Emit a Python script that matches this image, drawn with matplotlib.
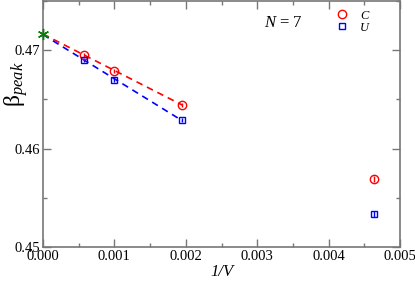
import numpy as np
import matplotlib
matplotlib.use("Agg")
import matplotlib.pyplot as plt
from matplotlib.ticker import MultipleLocator
from matplotlib.lines import Line2D

plt.rcParams['font.family'] = ['Liberation Serif', 'DejaVu Serif']
plt.rcParams['mathtext.fontset'] = 'custom'
plt.rcParams['mathtext.rm'] = 'Liberation Serif'
plt.rcParams['mathtext.it'] = 'Liberation Serif:italic'

# data
inv_v = [1 / 1728, 1 / 1000, 1 / 512, 1 / 216]
beta_c = [0.46956, 0.4679, 0.46442, 0.4569]
err_c = [0.0002, 0.0002, 0.0002, 0.0003]
beta_u = [0.4690, 0.4670, 0.46287, 0.45335]
err_u = [0.0002, 0.0002, 0.0002, 0.0003]
star_x = [0.0]
star_y = [0.47162]

fig = plt.figure(figsize=(4.15, 2.81), dpi=100)
ax = fig.add_axes([0.1036, 0.121, 0.8603, 0.8754])

# linear fits through the three largest volumes
xs = np.array([0.0, inv_v[2]])
for beta, col in [(beta_c, 'red'), (beta_u, 'blue')]:
    pts_x = np.array(star_x + inv_v[:3])
    pts_y = np.array(star_y + beta[:3])
    k, b = np.polyfit(pts_x, pts_y, 1)
    ax.plot(xs, k * xs + b, color=col, ls=(0, (4, 3)), lw=1.2)

ax.errorbar(inv_v, beta_c, yerr=err_c, fmt='o', mfc='none', mec='red', ecolor='red',
            ms=6, mew=1.0, elinewidth=1.0, capsize=0)
ax.errorbar(inv_v, beta_u, yerr=err_u, fmt='s', mfc='none', mec='blue', ecolor='blue',
            ms=5, mew=1.0, elinewidth=1.0, capsize=0)
ax.plot(star_x, star_y, marker=(6, 2, 0), color='green', ms=8, mew=1.0, ls='none',
        clip_on=False, zorder=5)

ax.set_xlim(0, 0.005)
ax.set_ylim(0.45, 0.475)
ax.xaxis.set_major_locator(MultipleLocator(0.001))
ax.xaxis.set_minor_locator(MultipleLocator(0.0005))
ax.yaxis.set_major_locator(MultipleLocator(0.01))
ax.yaxis.set_minor_locator(MultipleLocator(0.005))
ax.xaxis.set_major_formatter(matplotlib.ticker.FormatStrFormatter('%.3f'))
ax.yaxis.set_major_formatter(matplotlib.ticker.FormatStrFormatter('%.2f'))
ax.tick_params(which='both', direction='in', top=True, right=True, color='#777777',
               labelsize=10.5, pad=2)
ax.tick_params(which='major', length=6, width=1)
ax.tick_params(which='minor', length=3, width=1)
for s in ax.spines.values():
    s.set_color('#777777')
    s.set_linewidth(1.2)

ax.set_xlabel('1/V', fontsize=12, style='italic', labelpad=1)
fig.text(16 / 415, 1 - 84 / 281, r'$\mathrm{\beta}_{peak}$', fontsize=17,
         rotation=90, ha='center', va='center')

ax.text(0.00309, 0.4728, r'$N$ = 7', fontsize=12, va='center')
handles = [Line2D([], [], marker='o', mfc='none', mec='red', ms=6, mew=1.0, ls='none'),
           Line2D([], [], marker='s', mfc='none', mec='blue', ms=5, mew=1.0, ls='none')]
ax.legend(handles, ['C', 'U'], loc='upper left', bbox_to_anchor=(0.8, 1.0),
          frameon=False, handlelength=0.8, handletextpad=1.0, labelspacing=0.0,
          borderpad=0.2, prop={'style': 'italic', 'size': 9})

fig.savefig('out.png', dpi=100)
